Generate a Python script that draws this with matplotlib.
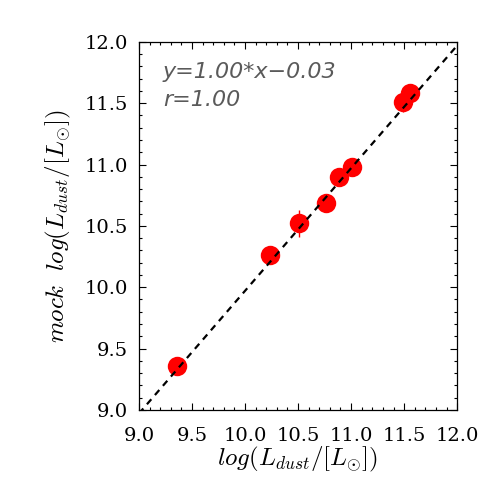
import numpy as np
import matplotlib
matplotlib.use("Agg")
import matplotlib.pyplot as plt
from matplotlib.ticker import MultipleLocator, FormatStrFormatter

# data
x_true = [9.36, 10.24, 10.51, 10.76, 10.89, 11.01, 11.49, 11.56]
y_mock = [9.36, 10.26, 10.52, 10.69, 10.90, 10.98, 11.51, 11.58]
y_err = [0.02, 0.02, 0.11, 0.02, 0.02, 0.02, 0.08, 0.03]

fit_slope = 1.00
fit_icpt = -0.03
fit_r = 1.00

plt.rcParams["font.family"] = ["DejaVu Serif"]
plt.rcParams["mathtext.fontset"] = "cm"
plt.rcParams["axes.linewidth"] = 0.9

fig = plt.figure(figsize=(4.98, 4.98), dpi=100)
ax = fig.add_axes([0.279, 0.177, 0.639, 0.739])

xx = np.array([9.0, 12.0])
ax.plot(xx, fit_slope * xx + fit_icpt, color="black", ls=(0, (3, 2.5)), lw=1.6, zorder=3)

ax.errorbar(x_true, y_mock, yerr=y_err, fmt="o", color="red", ms=14,
            ecolor="red", elinewidth=1, capsize=3, mew=0, zorder=2)

ax.set_xlim(9.0, 12.0)
ax.set_ylim(9.0, 12.0)
ax.xaxis.set_major_locator(MultipleLocator(0.5))
ax.yaxis.set_major_locator(MultipleLocator(0.5))
ax.xaxis.set_minor_locator(MultipleLocator(0.1))
ax.yaxis.set_minor_locator(MultipleLocator(0.1))
ax.tick_params(which="both", direction="in", top=True, right=True, labelsize=14)
ax.tick_params(which="major", length=5, width=0.8)
ax.tick_params(which="minor", length=2.5, width=0.8)
ax.tick_params(axis="x", which="major", pad=12)
ax.tick_params(axis="y", which="major", pad=8)
ax.xaxis.set_major_formatter(FormatStrFormatter("%.1f"))
ax.yaxis.set_major_formatter(FormatStrFormatter("%.1f"))

ax.set_xlabel(r"$log(L_{dust}/[L_{\odot}])$", fontsize=18, labelpad=0)
ax.set_ylabel(r"$mock\ \ log(L_{dust}/[L_{\odot}])$", fontsize=18, labelpad=8)

ax.text(0.075, 0.945, f"y={fit_slope:.2f}*x\u2212{abs(fit_icpt):.2f}",
        transform=ax.transAxes, fontsize=16, color="#5a5a5a", style="italic",
        family="DejaVu Sans", va="top")
ax.text(0.075, 0.87, f"r={fit_r:.2f}", transform=ax.transAxes, fontsize=16,
        color="#5a5a5a", style="italic", family="DejaVu Sans", va="top")

fig.savefig("out.png", dpi=100)
